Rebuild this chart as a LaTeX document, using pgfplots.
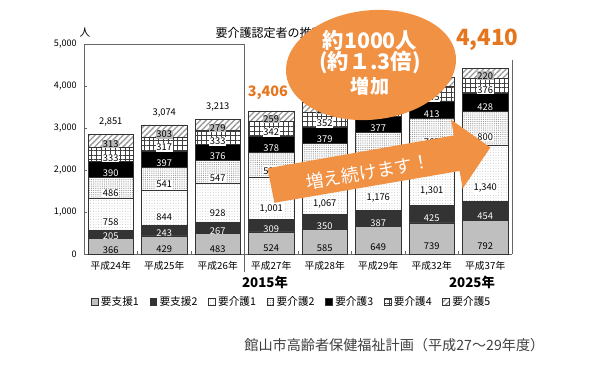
\documentclass[border=0pt]{standalone}
\usepackage{pgfplots}
\pgfplotsset{compat=1.18}
\usepackage{pgfplotstable}
\usepackage{fontspec}
\setmainfont{Noto Sans CJK JP}
\usetikzlibrary{patterns,patterns.meta}
\definecolor{orfill}{RGB}{240,145,68}
\definecolor{ortext}{RGB}{230,118,30}
\pgfplotstableread{
x s1 s2 k1 k2 k3 k4 k5
0 366 205 758 486 390 333 313
1 429 243 844 541 397 317 303
2 483 267 928 547 376 333 279
3 524 309 1001 593 378 342 259
4 585 350 1067 637 379 352 250
5 649 387 1176 679 377 355 240
6 739 425 1301 767 413 345 215
7 792 454 1340 800 428 376 220
}\datatable
\begin{document}
\begin{tikzpicture}
\begin{axis}[
  scale only axis, width=321pt, height=157.5pt,
  ybar stacked, bar width=0.85,
  xmin=-0.5, xmax=7.5, ymin=0, ymax=5000,
  axis lines*=left,
  xtick={0,1,...,7},
  xticklabels={平成24年,平成25年,平成26年,平成27年,平成28年,平成29年,平成32年,平成37年},
  minor xtick={0.5,1.5,...,6.5},
  ytick={0,1000,...,5000},
  minor ytick={0,1000,...,5000},
  major tick length=0pt, minor tick length=2.5pt,
  tick style={draw=gray!80!black, line width=0.5pt},
  /pgf/number format/1000 sep={,},
  /pgf/number format/assume math mode=true,
  axis line style={draw=gray!80!black, line width=0.6pt},
  xticklabel style={font=\fontsize{7.3}{8}\selectfont, yshift=-2pt},
  yticklabel style={font=\fontsize{6.8}{8}\selectfont, xshift=-2pt},
  point meta=explicit,
  nodes near coords,
  every node near coord/.append style={anchor=center, inner sep=0.6pt,
    font=\fontsize{7}{8}\selectfont,
    /utils/exec={\pgfkeys{/pgf/fpu=true,/pgf/fpu/output format=fixed}\pgfmathsetmacro\halfh{\pgfplotspointmeta*0.007875}\pgfkeys{/pgf/fpu=false}},
    yshift=-\halfh pt},
  legend image code/.code={\draw[#1] (0pt,-2.5pt) rectangle (5pt,2.5pt);},
  legend style={at={(0.486,-0.2286)}, anchor=center, draw=none, fill=none,
    legend columns=7, font=\fontsize{8}{9}\selectfont,
    /tikz/every even column/.append style={column sep=6pt}},
  clip=false,
]
\addplot[fill=gray!50, draw=black!80, line width=0.5pt] table[x=x,y=s1,meta=s1]{\datatable};
\addplot[fill=black!80, draw=black!80, line width=0.5pt, every node near coord/.append style={text=white}] table[x=x,y=s2,meta=s2]{\datatable};
\addplot[fill=white, draw=black!80, line width=0.5pt, postaction={pattern={Dots[distance=2pt,radius=0.3pt]}, pattern color=gray!80},
  every node near coord/.append style={fill=white}] table[x=x,y=k1,meta=k1]{\datatable};
\addplot[fill=white, draw=black!80, line width=0.5pt, postaction={pattern={Dots[distance=1.4pt,radius=0.35pt]}, pattern color=gray},
  every node near coord/.append style={fill=white}] table[x=x,y=k2,meta=k2]{\datatable};
\addplot[fill=black, draw=black!80, line width=0.5pt, every node near coord/.append style={text=white}] table[x=x,y=k3,meta=k3]{\datatable};
\addplot[fill=white, draw=black!80, line width=0.5pt, postaction={pattern={Hatch[angle=0,distance=3.6pt,line width=0.4pt]}, pattern color=black!75},
  every node near coord/.append style={fill=white}] table[x=x,y=k4,meta=k4]{\datatable};
\addplot[fill=white, draw=black!80, line width=0.5pt, postaction={pattern={Lines[angle=45,distance=3pt,line width=1pt]}, pattern color=gray!80},
  every node near coord/.append style={fill=gray!55}] table[x=x,y=k5,meta=k5]{\datatable};
\legend{要支援1,要支援2,要介護1,要介護2,要介護3,要介護4,要介護5}
\draw[gray!80!black, line width=0.6pt] (rel axis cs:0,1) -- (axis cs:2.5,5000);
\draw[gray!80!black, line width=0.6pt] (rel axis cs:1,0) -- (rel axis cs:1,0.924);
\draw[gray!80!black, line width=0.6pt] (axis cs:2.5,5000) -- ([yshift=-13.5pt]axis cs:2.5,0);
\node[font=\fontsize{7}{8}\selectfont, yshift=9pt] at (axis cs:0,2851) {2,851};
\node[font=\fontsize{7}{8}\selectfont, yshift=8.7pt] at (axis cs:1,3074) {3,074};
\node[font=\fontsize{7}{8}\selectfont, yshift=8.8pt] at (axis cs:2,3213) {3,213};
\node[font=\fontsize{10.8}{12}\selectfont\bfseries, text=ortext, fill=white, inner xsep=7pt, inner ysep=4pt, yshift=13.5pt, xshift=-2.5pt] at (axis cs:3,3406) {3,406};
\node[font=\fontsize{16.8}{18}\selectfont\bfseries, text=ortext, fill=white, inner sep=3pt, yshift=21.5pt, xshift=1.5pt] at (axis cs:7,4410) {4,410};
\end{axis}
\begin{scope}[x=0.75pt,y=-0.75pt,shift={(-63pt,190.5pt)}]
\path (0,0) rectangle (600,366);
\node[anchor=west, font=\fontsize{9}{10}\selectfont] at (211,33) {要介護認定者の推移};
\node[font=\fontsize{8}{9}\selectfont] at (85,33) {人};
\node[font=\fontsize{10}{11}\selectfont\bfseries] at (265,282) {2015年};
\node[font=\fontsize{10}{11}\selectfont\bfseries] at (472,282) {2025年};
\node[anchor=east, text=black!75, font=\fontsize{10.6}{12}\selectfont] at (549,345) {館山市高齢者保健福祉計画（平成27～29年度）};
\fill[orfill, rotate around={6:(371,65)}] (371,65) ellipse [x radius=64pt, y radius=41pt];
\node[text=white, font=\fontsize{16}{17}\selectfont\bfseries] at (370,40) {約1000人};
\node[text=white, font=\fontsize{16}{17}\selectfont\bfseries] at (370,63) {(約１.3倍)};
\node[text=white, font=\fontsize{14.3}{15}\selectfont\bfseries] at (370,86) {増加};
\fill[orfill] (267.5,168.3) -- (453.9,135.4) -- (451.0,119.7) -- (490.3,147.5) -- (462.6,188.7) -- (459.7,170.95) -- (274.4,202.75) -- cycle;
\node[text=white, rotate=10, font=\fontsize{13.5}{14}\selectfont] at (368,172) {増え続けます！};
\end{scope}
\end{tikzpicture}
\end{document}
